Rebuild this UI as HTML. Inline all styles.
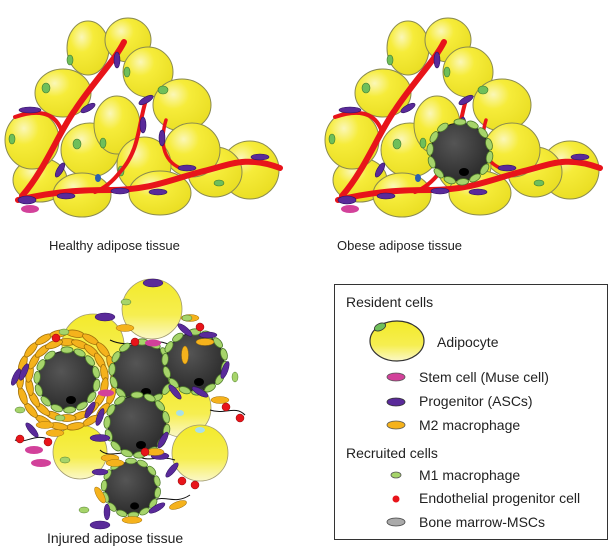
<!DOCTYPE html>
<html><head><meta charset="utf-8"><style>
html,body{margin:0;padding:0;background:#fff;width:615px;height:548px;overflow:hidden}
svg{display:block}
text{font-family:"Liberation Sans",Arial,sans-serif;fill:#222}
</style></head><body>
<svg width="615" height="548" viewBox="0 0 615 548" xmlns="http://www.w3.org/2000/svg">
<defs>
<radialGradient id="yg" cx="0.35" cy="0.3" r="0.8">
<stop offset="0" stop-color="#fbf7b8"/><stop offset="0.35" stop-color="#f6ec3a"/><stop offset="1" stop-color="#e8dc20"/>
</radialGradient>
<linearGradient id="yl" x1="0" y1="0" x2="0" y2="1">
<stop offset="0" stop-color="#f3ea2a"/><stop offset="0.6" stop-color="#f6ee50"/><stop offset="1" stop-color="#fbf8c8"/>
</linearGradient>
<radialGradient id="dk" cx="0.4" cy="0.35" r="0.7">
<stop offset="0" stop-color="#555"/><stop offset="1" stop-color="#2a2a2a"/>
</radialGradient>
<g id="ring">
<g fill="#a6d46a" stroke="#4d7a2a" stroke-width="0.8">
<ellipse cx="0" cy="-30" rx="6" ry="3.2"/>
<ellipse cx="0" cy="-30" rx="6" ry="3.2" transform="rotate(25)"/>
<ellipse cx="0" cy="-30" rx="6" ry="3.2" transform="rotate(50)"/>
<ellipse cx="0" cy="-30" rx="6" ry="3.2" transform="rotate(75)"/>
<ellipse cx="0" cy="-30" rx="6" ry="3.2" transform="rotate(100)"/>
<ellipse cx="0" cy="-30" rx="6" ry="3.2" transform="rotate(125)"/>
<ellipse cx="0" cy="-30" rx="6" ry="3.2" transform="rotate(150)"/>
<ellipse cx="0" cy="-30" rx="6" ry="3.2" transform="rotate(175)"/>
<ellipse cx="0" cy="-30" rx="6" ry="3.2" transform="rotate(200)"/>
<ellipse cx="0" cy="-30" rx="6" ry="3.2" transform="rotate(225)"/>
<ellipse cx="0" cy="-30" rx="6" ry="3.2" transform="rotate(250)"/>
<ellipse cx="0" cy="-30" rx="6" ry="3.2" transform="rotate(275)"/>
<ellipse cx="0" cy="-30" rx="6" ry="3.2" transform="rotate(300)"/>
<ellipse cx="0" cy="-30" rx="6" ry="3.2" transform="rotate(325)"/>
</g></g>
<g id="dark">
<circle cx="0" cy="0" r="29" fill="url(#dk)" stroke="#222"/>
<use href="#ring"/>
<ellipse cx="4" cy="20" rx="5" ry="4" fill="#000"/>
</g>
<g id="oring">
<g fill="#f5b21c" stroke="#a0700a" stroke-width="0.8">
<ellipse cx="0" cy="-38" rx="9" ry="3.5"/>
<ellipse cx="0" cy="-38" rx="9" ry="3.5" transform="rotate(20)"/>
<ellipse cx="0" cy="-38" rx="9" ry="3.5" transform="rotate(40)"/>
<ellipse cx="0" cy="-38" rx="9" ry="3.5" transform="rotate(60)"/>
<ellipse cx="0" cy="-38" rx="9" ry="3.5" transform="rotate(80)"/>
<ellipse cx="0" cy="-38" rx="9" ry="3.5" transform="rotate(100)"/>
<ellipse cx="0" cy="-38" rx="9" ry="3.5" transform="rotate(120)"/>
<ellipse cx="0" cy="-38" rx="9" ry="3.5" transform="rotate(140)"/>
<ellipse cx="0" cy="-38" rx="9" ry="3.5" transform="rotate(160)"/>
<ellipse cx="0" cy="-38" rx="9" ry="3.5" transform="rotate(180)"/>
<ellipse cx="0" cy="-38" rx="9" ry="3.5" transform="rotate(200)"/>
<ellipse cx="0" cy="-38" rx="9" ry="3.5" transform="rotate(220)"/>
<ellipse cx="0" cy="-38" rx="9" ry="3.5" transform="rotate(240)"/>
<ellipse cx="0" cy="-38" rx="9" ry="3.5" transform="rotate(260)"/>
<ellipse cx="0" cy="-38" rx="9" ry="3.5" transform="rotate(280)"/>
<ellipse cx="0" cy="-38" rx="9" ry="3.5" transform="rotate(300)"/>
<ellipse cx="0" cy="-38" rx="9" ry="3.5" transform="rotate(320)"/>
<ellipse cx="0" cy="-38" rx="9" ry="3.5" transform="rotate(340)"/>
<ellipse cx="0" cy="-47" rx="9" ry="3.5" transform="rotate(10)"/>
<ellipse cx="0" cy="-47" rx="9" ry="3.5" transform="rotate(30)"/>
<ellipse cx="0" cy="-47" rx="9" ry="3.5" transform="rotate(50)"/>
<ellipse cx="0" cy="-47" rx="9" ry="3.5" transform="rotate(70)"/>
<ellipse cx="0" cy="-47" rx="9" ry="3.5" transform="rotate(90)"/>
<ellipse cx="0" cy="-47" rx="9" ry="3.5" transform="rotate(110)"/>
<ellipse cx="0" cy="-47" rx="9" ry="3.5" transform="rotate(130)"/>
<ellipse cx="0" cy="-47" rx="9" ry="3.5" transform="rotate(150)"/>
<ellipse cx="0" cy="-47" rx="9" ry="3.5" transform="rotate(170)"/>
<ellipse cx="0" cy="-47" rx="9" ry="3.5" transform="rotate(190)"/>
<ellipse cx="0" cy="-47" rx="9" ry="3.5" transform="rotate(210)"/>
<ellipse cx="0" cy="-47" rx="9" ry="3.5" transform="rotate(230)"/>
<ellipse cx="0" cy="-47" rx="9" ry="3.5" transform="rotate(250)"/>
<ellipse cx="0" cy="-47" rx="9" ry="3.5" transform="rotate(270)"/>
<ellipse cx="0" cy="-47" rx="9" ry="3.5" transform="rotate(290)"/>
<ellipse cx="0" cy="-47" rx="9" ry="3.5" transform="rotate(310)"/>
<ellipse cx="0" cy="-47" rx="9" ry="3.5" transform="rotate(330)"/>
<ellipse cx="0" cy="-47" rx="9" ry="3.5" transform="rotate(350)"/>
</g></g>
<g id="tissue">
<g fill="url(#yg)" stroke="#8a8a50" stroke-width="1">
<ellipse cx="88" cy="48" rx="21" ry="27"/>
<ellipse cx="128" cy="40" rx="23" ry="22"/>
<ellipse cx="148" cy="72" rx="25" ry="25"/>
<ellipse cx="63" cy="93" rx="28" ry="24"/>
<ellipse cx="182" cy="105" rx="29" ry="26"/>
<ellipse cx="40" cy="180" rx="27" ry="22"/>
<ellipse cx="32" cy="140" rx="27" ry="29"/>
<ellipse cx="90" cy="150" rx="29" ry="27"/>
<ellipse cx="250" cy="170" rx="29" ry="29"/>
<ellipse cx="215" cy="172" rx="27" ry="25"/>
<ellipse cx="192" cy="150" rx="28" ry="27"/>
<ellipse cx="117" cy="125" rx="23" ry="29"/>
<ellipse cx="144" cy="165" rx="27" ry="28"/>
<ellipse cx="160" cy="193" rx="31" ry="22"/>
<ellipse cx="82" cy="195" rx="29" ry="22"/>
</g>
<g fill="#6fbf5a" stroke="#3d7a30" stroke-width="0.6">
<ellipse cx="70" cy="60" rx="3" ry="5"/><ellipse cx="127" cy="72" rx="3" ry="5"/>
<ellipse cx="46" cy="88" rx="4" ry="5"/><ellipse cx="163" cy="90" rx="5" ry="4"/>
<ellipse cx="12" cy="139" rx="3" ry="5"/><ellipse cx="77" cy="144" rx="4" ry="5"/>
<ellipse cx="103" cy="143" rx="3" ry="5"/><ellipse cx="121" cy="171" rx="3" ry="5"/>
<ellipse cx="219" cy="183" rx="5" ry="3"/>
</g>
<g fill="none" stroke="#e8141a" stroke-linecap="round" stroke-linejoin="round">
<path d="M18 200 C60 190 90 190 110 190 C150 190 170 180 200 172 C230 165 245 155 280 168" stroke-width="6"/>
<path d="M22 196 C45 170 60 130 75 110 C95 80 115 60 124 42" stroke-width="6"/>
<path d="M15 117 C35 110 55 110 62 132" stroke-width="4"/>
<path d="M146 100 C138 125 140 150 120 172 C110 185 100 190 95 192" stroke-width="4"/>
<path d="M166 120 C160 140 162 160 180 168" stroke-width="3.5"/>
</g>
<g fill="#5a2a9a" stroke="#2d1160" stroke-width="0.6">
<ellipse cx="117" cy="60" rx="3" ry="8"/><ellipse cx="30" cy="110" rx="11" ry="3"/>
<ellipse cx="88" cy="108" rx="8" ry="3" transform="rotate(-30 88 108)"/>
<ellipse cx="146" cy="100" rx="8" ry="3" transform="rotate(-30 146 100)"/>
<ellipse cx="143" cy="125" rx="3" ry="8"/><ellipse cx="162" cy="138" rx="3" ry="8"/>
<ellipse cx="60" cy="170" rx="3" ry="8" transform="rotate(30 60 170)"/>
<ellipse cx="27" cy="200" rx="9" ry="4"/><ellipse cx="66" cy="196" rx="9" ry="3"/>
<ellipse cx="120" cy="191" rx="9" ry="3"/><ellipse cx="158" cy="192" rx="9" ry="3"/>
<ellipse cx="187" cy="168" rx="9" ry="3"/><ellipse cx="260" cy="157" rx="9" ry="3"/>
</g>
<ellipse cx="30" cy="209" rx="9" ry="4" fill="#d2419a"/>
<ellipse cx="98" cy="178" rx="3" ry="4" fill="#2a5fb0"/>
</g>
</defs>

<use href="#tissue"/>
<use href="#tissue" x="320"/>
<g transform="translate(460,152)"><use href="#dark"/></g>

<text x="49" y="250" font-size="13">Healthy adipose tissue</text>
<text x="337" y="250" font-size="13">Obese adipose tissue</text>

<!-- injured -->
<g>
<g fill="url(#yl)" stroke="#a09a70" stroke-width="0.8">
<circle cx="152" cy="309" r="30"/>
<circle cx="93" cy="345" r="31"/>
<circle cx="182" cy="408" r="29"/>
<circle cx="80" cy="452" r="27"/>
<circle cx="200" cy="453" r="28"/>
</g>
<g stroke="#111" fill="none" stroke-width="1">
<path d="M15 440 C25 445 35 432 50 440"/><path d="M100 450 C110 460 125 447 140 457 C150 462 160 455 175 460"/>
<path d="M110 340 C130 350 150 335 170 345"/><path d="M210 410 C225 415 235 405 245 415"/>
<path d="M155 500 C165 495 175 505 190 495"/>
</g>
<g transform="translate(67,380)"><use href="#oring"/><use href="#dark"/></g>
<g transform="translate(142,372)"><use href="#dark"/></g>
<g transform="translate(195,362)"><use href="#dark"/></g>
<g transform="translate(137,425)"><use href="#dark"/></g>
<g transform="translate(131,488) scale(0.9)"><use href="#dark"/></g>
<g fill="#5a2a9a" stroke="#2d1160" stroke-width="0.5">
<ellipse cx="153" cy="283" rx="10" ry="4"/><ellipse cx="105" cy="317" rx="10" ry="4"/>
<ellipse cx="16" cy="377" rx="3" ry="9" transform="rotate(25 16 377)"/>
<ellipse cx="24" cy="372" rx="3" ry="9" transform="rotate(25 24 372)"/>
<ellipse cx="185" cy="330" rx="3" ry="9" transform="rotate(-50 185 330)"/>
<ellipse cx="208" cy="335" rx="9" ry="3"/><ellipse cx="225" cy="370" rx="3" ry="9" transform="rotate(20 225 370)"/>
<ellipse cx="200" cy="392" rx="9" ry="3" transform="rotate(30 200 392)"/>
<ellipse cx="175" cy="392" rx="3" ry="9" transform="rotate(-40 175 392)"/>
<ellipse cx="32" cy="430" rx="3" ry="9" transform="rotate(-40 32 430)"/>
<ellipse cx="90" cy="410" rx="3" ry="9" transform="rotate(30 90 410)"/>
<ellipse cx="100" cy="417" rx="3" ry="9" transform="rotate(20 100 417)"/>
<ellipse cx="100" cy="438" rx="10" ry="3.5"/><ellipse cx="163" cy="440" rx="3" ry="9" transform="rotate(30 163 440)"/>
<ellipse cx="160" cy="456" rx="9" ry="3.5"/><ellipse cx="172" cy="470" rx="3" ry="9" transform="rotate(40 172 470)"/>
<ellipse cx="100" cy="472" rx="8" ry="3"/><ellipse cx="100" cy="525" rx="10" ry="4"/>
<ellipse cx="157" cy="508" rx="9" ry="3" transform="rotate(-30 157 508)"/>
<ellipse cx="107" cy="512" rx="3" ry="8"/>
</g>
<g fill="#f5b21c" stroke="#a0700a" stroke-width="0.5">
<ellipse cx="125" cy="328" rx="9" ry="3.5"/><ellipse cx="185" cy="355" rx="3.5" ry="9"/>
<ellipse cx="220" cy="400" rx="9" ry="3.5"/><ellipse cx="45" cy="425" rx="9" ry="3.5"/>
<ellipse cx="55" cy="433" rx="9" ry="3.5"/><ellipse cx="110" cy="458" rx="9" ry="3.5"/>
<ellipse cx="155" cy="452" rx="9" ry="3.5"/><ellipse cx="115" cy="463" rx="9" ry="3.5"/>
<ellipse cx="100" cy="495" rx="3.5" ry="9" transform="rotate(-30 100 495)"/>
<ellipse cx="178" cy="505" rx="9" ry="3.5" transform="rotate(-20 178 505)"/>
<ellipse cx="132" cy="520" rx="10" ry="3.5"/><ellipse cx="190" cy="318" rx="9" ry="3.5"/>
<ellipse cx="205" cy="342" rx="9" ry="3.5"/>
</g>
<g fill="#e8141a" stroke="#8a0a0a" stroke-width="0.5">
<circle cx="56" cy="338" r="4"/><circle cx="135" cy="342" r="4"/><circle cx="200" cy="327" r="4"/>
<circle cx="226" cy="407" r="4"/><circle cx="240" cy="418" r="4"/><circle cx="20" cy="439" r="4"/>
<circle cx="48" cy="442" r="4"/><circle cx="145" cy="452" r="4"/><circle cx="182" cy="481" r="4"/>
<circle cx="195" cy="485" r="4"/>
</g>
<g fill="#d2419a"><ellipse cx="153" cy="343" rx="8" ry="3.5"/><ellipse cx="106" cy="393" rx="8" ry="3.5"/>
<ellipse cx="34" cy="450" rx="9" ry="4"/><ellipse cx="41" cy="463" rx="10" ry="4"/></g>
<g fill="#a6d46a" stroke="#4d7a2a" stroke-width="0.5">
<ellipse cx="126" cy="302" rx="5" ry="3"/><ellipse cx="64" cy="332" rx="5" ry="3"/>
<ellipse cx="187" cy="318" rx="5" ry="3"/><ellipse cx="235" cy="377" rx="3" ry="5"/>
<ellipse cx="20" cy="410" rx="5" ry="3"/><ellipse cx="60" cy="418" rx="5" ry="3"/>
<ellipse cx="65" cy="460" rx="5" ry="3"/><ellipse cx="84" cy="510" rx="5" ry="3"/>
</g>
<ellipse cx="180" cy="413" rx="4" ry="3" fill="#a8e0e8"/>
<ellipse cx="200" cy="430" rx="5" ry="3" fill="#a8e0e8"/>
</g>
<text x="47" y="543" font-size="14">Injured adipose tissue</text>

<!-- legend -->
<rect x="334.5" y="284.5" width="273" height="255" fill="#fff" stroke="#333" stroke-width="1"/>
<text x="346" y="307" font-size="14">Resident cells</text>
<ellipse cx="397" cy="341" rx="27" ry="20" fill="url(#yl)" stroke="#333" stroke-width="1.2"/>
<ellipse cx="380" cy="327" rx="6" ry="3.5" fill="#6fbf5a" stroke="#333" stroke-width="0.8" transform="rotate(-25 380 327)"/>
<text x="437" y="347" font-size="14">Adipocyte</text>
<ellipse cx="396" cy="377" rx="9" ry="4" fill="#d2419a" stroke="#555" stroke-width="0.8"/>
<text x="419" y="382" font-size="14">Stem cell (Muse cell)</text>
<ellipse cx="396" cy="402" rx="9" ry="4" fill="#5a2a9a" stroke="#333" stroke-width="0.8"/>
<text x="419" y="406" font-size="14">Progenitor (ASCs)</text>
<ellipse cx="396" cy="425" rx="9" ry="4" fill="#f5b21c" stroke="#555" stroke-width="0.8"/>
<text x="419" y="430" font-size="14">M2 macrophage</text>
<text x="346" y="458" font-size="14">Recruited cells</text>
<ellipse cx="396" cy="475" rx="5" ry="3" fill="#a6d46a" stroke="#555" stroke-width="0.8"/>
<text x="419" y="480" font-size="14">M1 macrophage</text>
<circle cx="396" cy="499" r="3.5" fill="#e8141a"/>
<text x="419" y="503" font-size="14">Endothelial progenitor cell</text>
<ellipse cx="396" cy="522" rx="9" ry="4" fill="#aaa" stroke="#444" stroke-width="0.8"/>
<text x="419" y="527" font-size="14">Bone marrow-MSCs</text>
</svg>
</body></html>
